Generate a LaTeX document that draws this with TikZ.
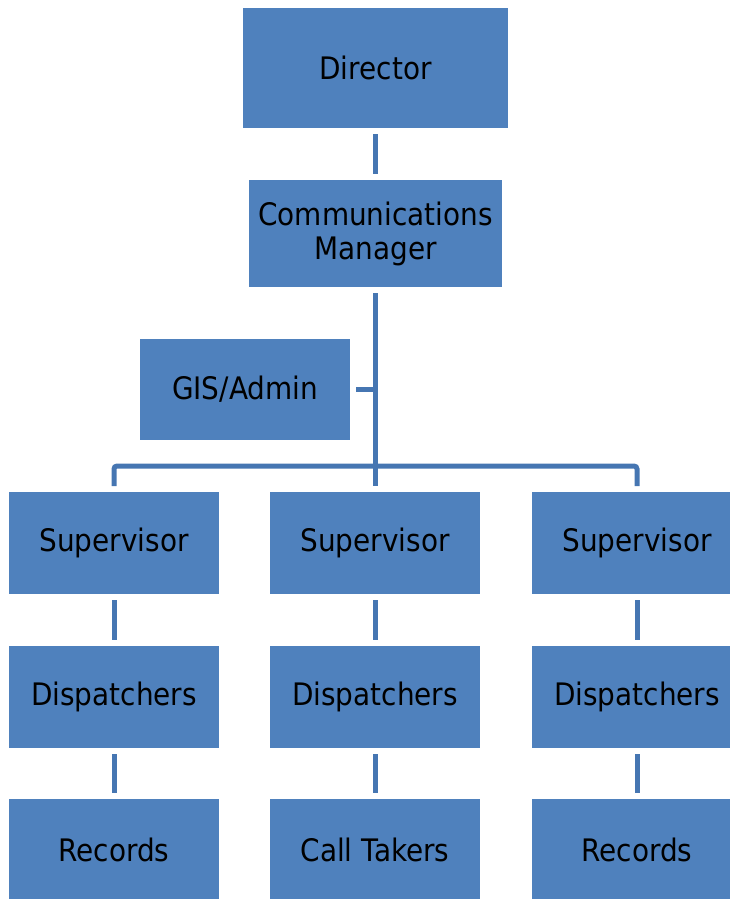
\documentclass[tikz,border=0pt]{standalone}
\usepackage{fontspec}
\setmainfont{DejaVu Sans}[FakeStretch=0.9]
\definecolor{boxblue}{RGB}{79,129,189}
\definecolor{lineblue}{RGB}{70,118,178}
\tikzset{
    unit/.style={fill=boxblue, text=black, align=center, inner sep=0pt, outer sep=6pt,
        minimum width=210pt, minimum height=102pt, font=\fontsize{31}{34}\selectfont},
    link/.style={draw=lineblue, line width=5pt},
}

\begin{document}
\begin{tikzpicture}[x=1pt, y=-1pt]
    \useasboundingbox (0,0) rectangle (730,899);
    \clip (0,0) rectangle (730,899);

    \node[unit, minimum width=265pt, minimum height=120pt] (director) at (375.5,68) {Director};
    \node[unit, minimum width=253pt, minimum height=107pt] (manager) at (375.5,233.5) {Communications\\Manager};
    \node[unit, minimum height=101pt] (gis) at (245,389.5) {GIS/Admin};

    \node[unit] (sup1) at (114,543) {Supervisor};
    \node[unit] (sup2) at (375,543) {Supervisor};
    \node[unit] (sup3) at (637,543) {Supervisor};
    \node[unit] (disp1) at (114,697) {Dispatchers};
    \node[unit] (disp2) at (375,697) {Dispatchers};
    \node[unit] (disp3) at (637,697) {Dispatchers};
    \node[unit] (rec1) at (114,850) {Records};
    \node[unit] (calls) at (375,850) {Call Takers};
    \node[unit] (rec3) at (637,850) {Records};

    \coordinate (bus) at (375.5,466);

    \draw[link] (director.south) -- (manager.north);
    \draw[link] (manager.south) -- (bus |- sup2.north);
    \draw[link] (gis.east) -- (gis.east -| bus);
    \draw[link, rounded corners=3pt] (sup1.north) |- (bus) -| (sup3.north);

    \draw[link] (sup1.south) -- (disp1.north);
    \draw[link] (sup2.south) -- (disp2.north);
    \draw[link] (sup3.south) -- (disp3.north);
    \draw[link] (disp1.south) -- (rec1.north);
    \draw[link] (disp2.south) -- (calls.north);
    \draw[link] (disp3.south) -- (rec3.north);
\end{tikzpicture}
\end{document}
